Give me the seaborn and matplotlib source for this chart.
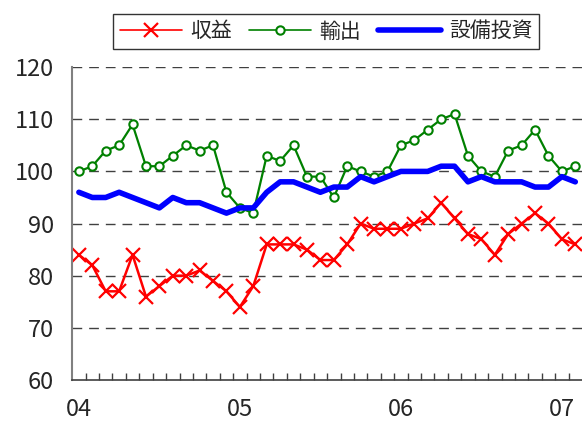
# Monthly index chart: 収益 / 輸出 / 設備投資 (2004-01 .. 2007-02)
import numpy as np
import pandas as pd
import matplotlib
matplotlib.use('Agg')
import matplotlib.pyplot as plt
import seaborn as sns

# Data (one value per month, Jan 2004 - Feb 2007)
shueki = [84, 82, 77, 77, 84, 76, 78, 80, 80, 81, 79, 77,
          74, 78, 86, 86, 86, 85, 83, 83, 86, 90, 89, 89,
          89, 90, 91, 94, 91, 88, 87, 84, 88, 90, 92, 90,
          87, 86]
yushutsu = [100, 101, 104, 105, 109, 101, 101, 103, 105, 104, 105, 96,
            93, 92, 103, 102, 105, 99, 99, 95, 101, 100, 99, 100,
            105, 106, 108, 110, 111, 103, 100, 99, 104, 105, 108, 103,
            100, 101]
setsubi = [96, 95, 95, 96, 95, 94, 93, 95, 94, 94, 93, 92,
           93, 93, 96, 98, 98, 97, 96, 97, 97, 99, 98, 99,
           100, 100, 100, 101, 101, 98, 99, 98, 98, 98, 97, 97,
           99, 98]
year_labels = ['04', '05', '06', '07']
year_pos = [0, 12, 24, 36]

df = pd.DataFrame({'month': np.arange(len(shueki)),
                   '収益': shueki, '輸出': yushutsu, '設備投資': setsubi})

sns.set_style('white')
plt.rcParams['font.family'] = ['Noto Sans CJK JP', 'DejaVu Sans']

fig = plt.figure(figsize=(5.82, 4.25), dpi=100)
ax = fig.add_axes([0.124, 0.106, 0.876, 0.736])

# dashed grid lines
for v in range(70, 121, 10):
    ax.axhline(v, color='#404040', lw=1, ls=(0, (7, 5)), zorder=0)

sns.lineplot(data=df, x='month', y='収益', ax=ax, color='#FF0000', lw=1.8,
             marker='x', markersize=10, markeredgewidth=1.6,
             markeredgecolor='#FF0000', label='収益')
sns.lineplot(data=df, x='month', y='輸出', ax=ax, color='#008000', lw=1.6,
             marker='o', markersize=6, markerfacecolor='white',
             markeredgecolor='#008000', markeredgewidth=1.5, label='輸出')
sns.lineplot(data=df, x='month', y='設備投資', ax=ax, color='#0000FF', lw=4,
             label='設備投資')

ax.set_xlim(-0.5, len(shueki) - 0.5)
ax.set_ylim(60, 120)
ax.set_yticks(range(60, 121, 10))
ax.set_xticks(year_pos)
ax.set_xticklabels(year_labels)
ax.set_xticks(np.arange(0.5, len(shueki) - 0.5, 1), minor=True)
ax.tick_params(axis='x', which='major', length=0, pad=13, labelsize=17)
ax.tick_params(axis='x', which='minor', direction='in', length=5, width=1,
               color='#404040', bottom=True)
ax.tick_params(axis='y', length=0, pad=13, labelsize=17)
ax.set_xlabel('')
ax.set_ylabel('')

for s in ['top', 'right']:
    ax.spines[s].set_visible(False)
ax.spines['left'].set_color('#808080')
ax.spines['left'].set_linewidth(1.5)
ax.spines['bottom'].set_color('#404040')
ax.spines['bottom'].set_linewidth(1.2)

ax.get_legend().remove()
h, l = ax.get_legend_handles_labels()
leg = fig.legend(h, l, loc='center', bbox_to_anchor=(0.56, 0.926), ncol=3,
                 fontsize=15, handlelength=3, columnspacing=0.8,
                 handletextpad=0.4, frameon=True, fancybox=False,
                 borderpad=0.3, edgecolor='black')
leg.get_frame().set_linewidth(1)
# thinner line handles in legend like the original
for line in leg.get_lines()[:2]:
    line.set_linewidth(1.2)

fig.savefig('out.png', dpi=100)
